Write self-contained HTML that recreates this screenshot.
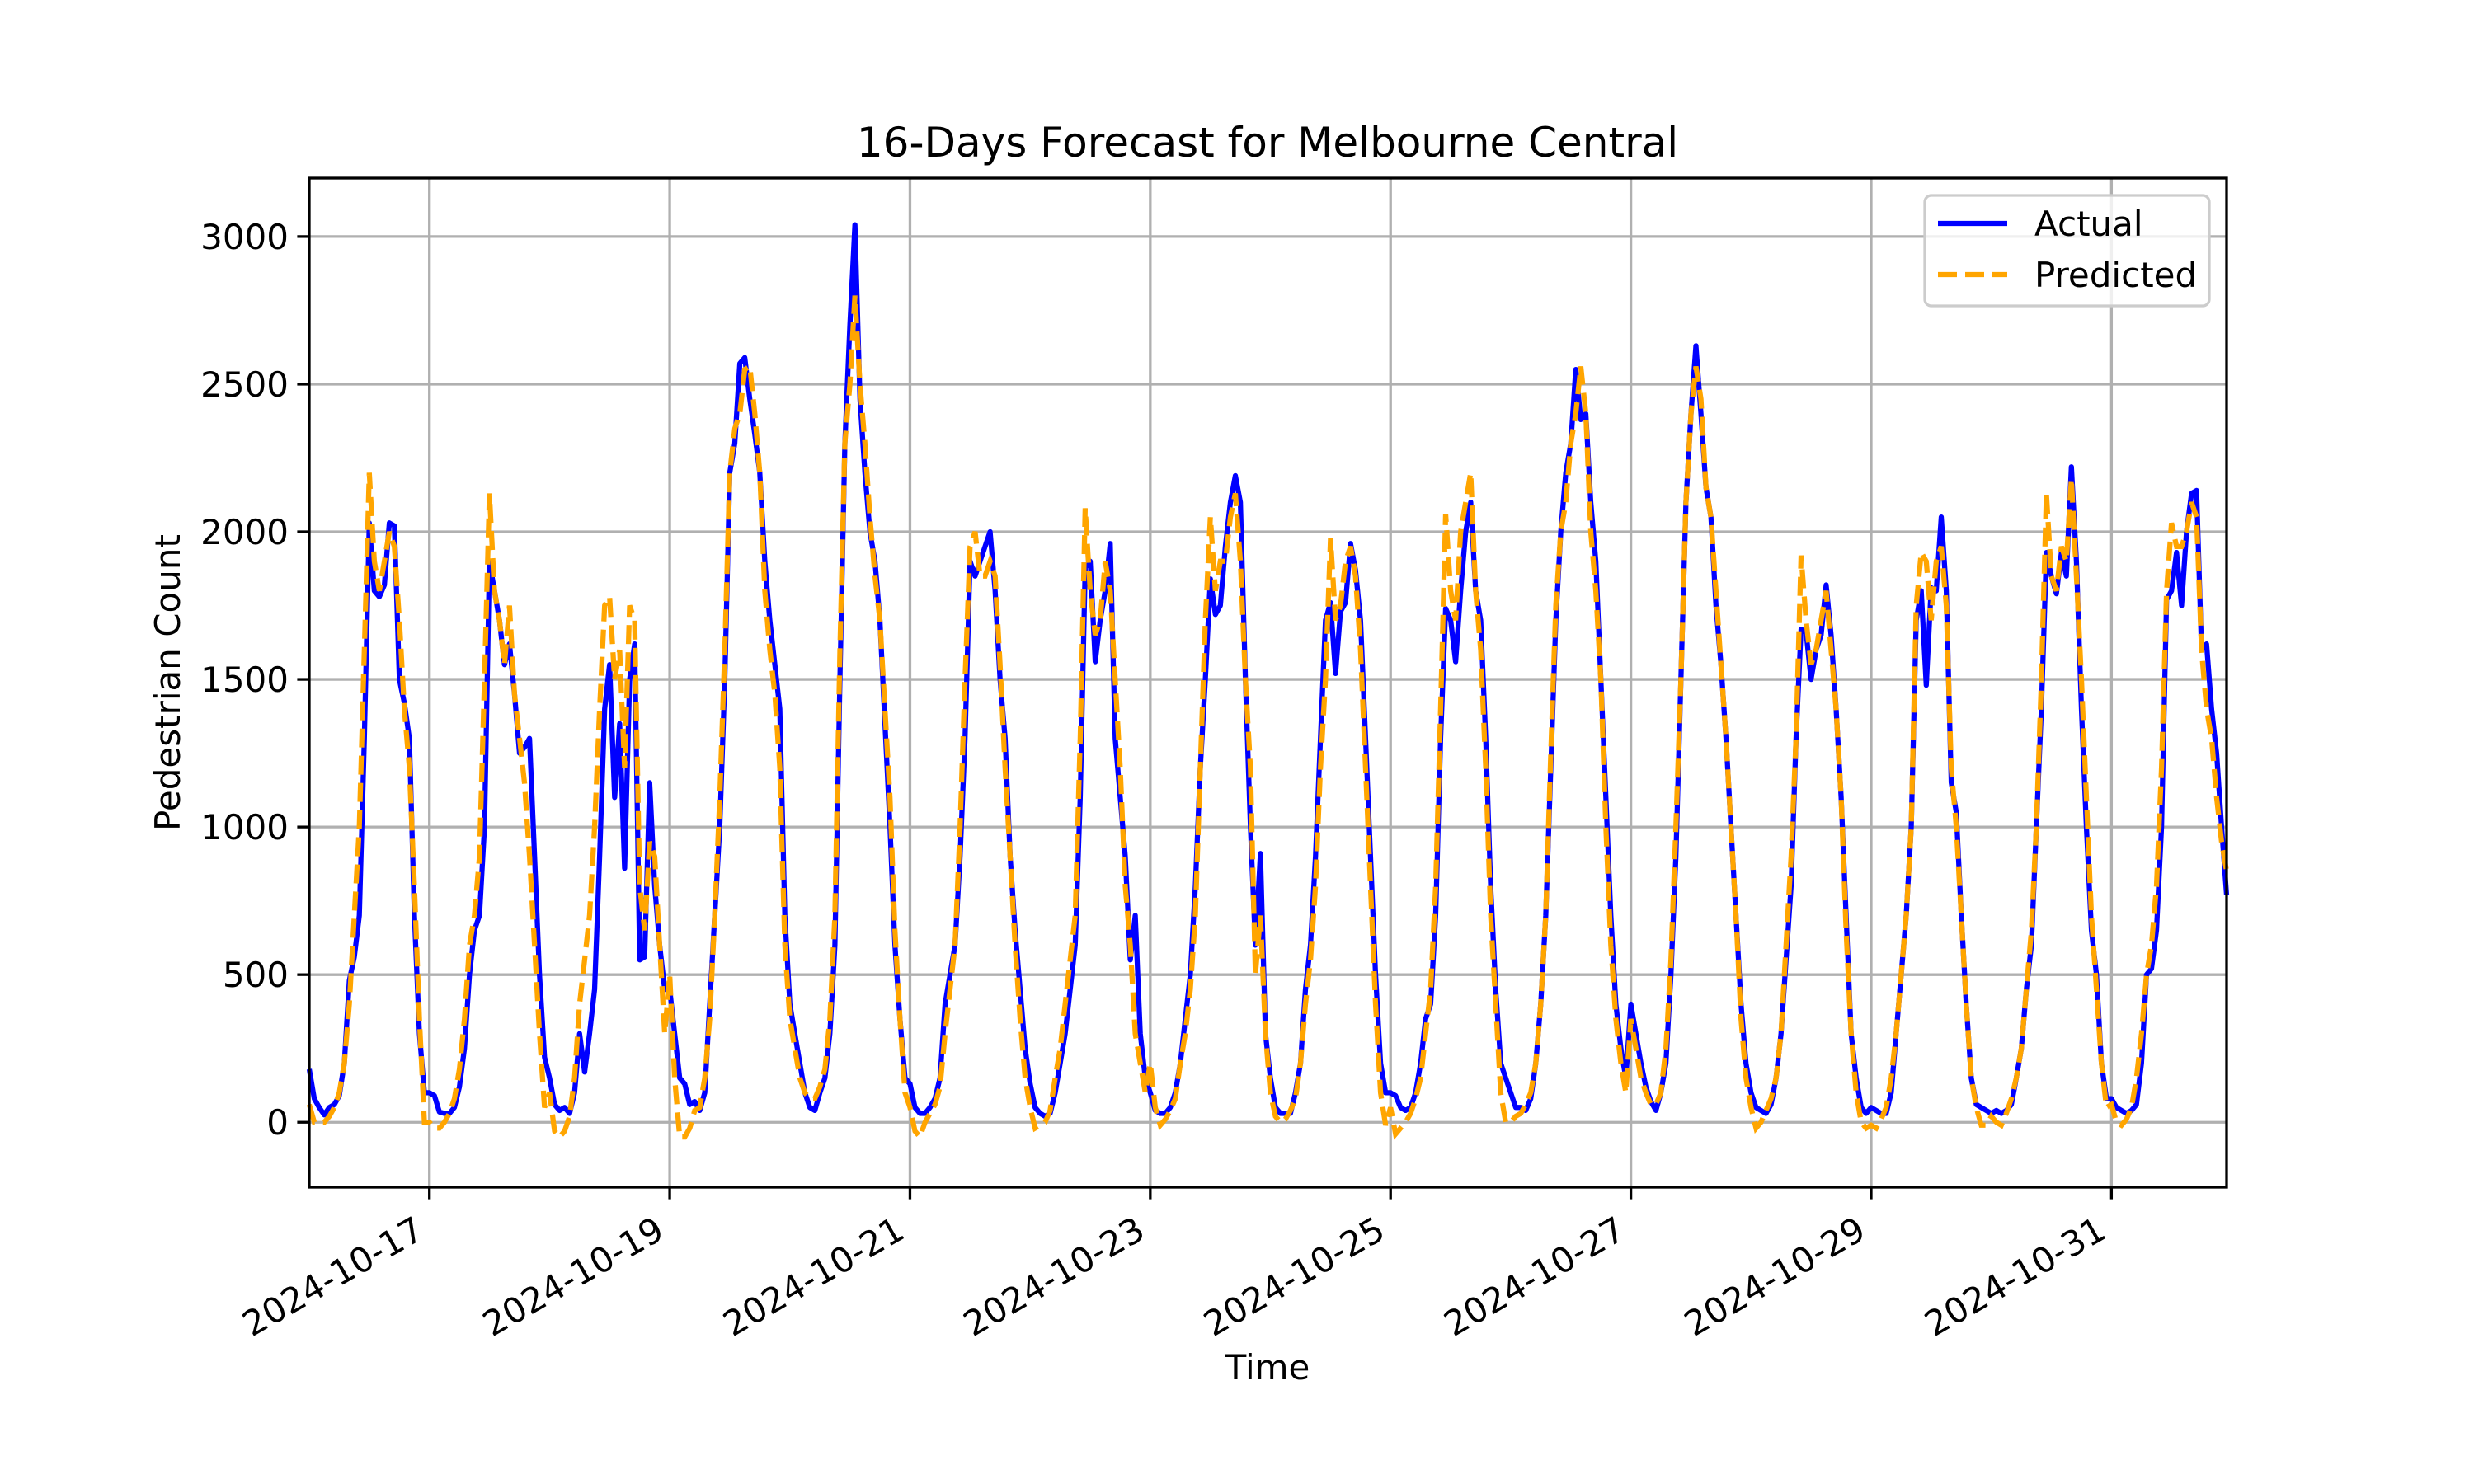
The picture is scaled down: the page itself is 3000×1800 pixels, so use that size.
<!DOCTYPE html>
<html><head><meta charset="utf-8"><title>16-Days Forecast for Melbourne Central</title>
<style>html,body{margin:0;padding:0;background:#fff}svg{display:block}text{font-family:"DejaVu Sans","Liberation Sans",sans-serif;fill:#000}</style>
</head><body>
<svg id="chart" xmlns="http://www.w3.org/2000/svg" width="3000" height="1800" viewBox="0 0 3000 1800">
<rect width="3000" height="1800" fill="#fff"/>
<g id="grid"></g>
<g id="series"></g>
<rect x="375" y="216" width="2325" height="1224" fill="none" stroke="#000" stroke-width="3.3"/>
<g id="ticks"></g>
<text x="1537" y="190" font-size="50" text-anchor="middle">16-Days Forecast for Melbourne Central</text>
<text x="1537" y="1673" font-size="42" text-anchor="middle">Time</text>
<text x="0" y="0" font-size="42" text-anchor="middle" transform="translate(218,828) rotate(-90)">Pedestrian Count</text>
<g>
<rect x="2334" y="237" width="345" height="134" rx="8" fill="#fff" fill-opacity="0.8" stroke="#ccc" stroke-width="3.3"/>
<line x1="2350" y1="271" x2="2434" y2="271" stroke="#0000ff" stroke-width="6.25"/>
<text x="2467" y="286" font-size="42">Actual</text>
<line x1="2350" y1="333" x2="2434" y2="333" stroke="#ffa500" stroke-width="6.25" stroke-dasharray="23,10"/>
<text x="2467" y="348" font-size="42">Predicted</text>
</g>
</svg>
<script>
const yTicks=[0,500,1000,1500,2000,2500,3000];
const xTickLabels=["2024-10-17","2024-10-19","2024-10-21","2024-10-23","2024-10-25","2024-10-27","2024-10-29","2024-10-31"];
const xTickHours=[24,72,120,168,216,264,312,360];
const actual=[
180,80,50,25,50,60,90,200,480,560,700,1300,2030,1800,1780,1820,2030,2020,1500,1420,1300,700,300,100,
100,90,35,30,30,50,120,250,500,650,700,1000,1900,1800,1700,1550,1620,1450,1250,1270,1300,900,500,220,
150,60,40,50,30,100,300,170,300,450,900,1400,1550,1100,1350,860,1500,1620,550,560,1150,800,600,450,
450,300,150,130,60,70,40,100,400,700,1000,1500,2200,2300,2570,2590,2450,2330,2200,1900,1700,1550,1400,700,
400,300,200,100,50,40,100,150,300,600,1500,2300,2700,3040,2450,2200,2000,1900,1700,1350,1000,600,350,150,
130,50,30,30,50,80,150,400,500,600,900,1300,1900,1850,1900,1950,2000,1800,1500,1300,900,650,450,250,
130,50,30,20,30,100,200,300,450,600,1100,1880,1900,1560,1700,1800,1960,1300,1100,900,550,700,300,150,
100,40,30,30,50,100,200,350,500,800,1200,1500,1840,1720,1750,1950,2100,2190,2100,1500,1000,600,910,300,
150,50,30,30,30,100,200,450,600,900,1300,1700,1760,1520,1730,1760,1960,1870,1700,1300,900,500,200,100,
100,90,50,40,50,100,200,350,400,700,1300,1740,1700,1560,1800,2000,2100,1800,1700,1300,800,450,200,150,
100,50,50,40,80,200,400,700,1200,1700,2000,2200,2300,2550,2380,2400,2100,1900,1500,1100,700,400,250,150,
400,300,200,120,70,40,100,200,500,900,1500,2100,2400,2630,2400,2150,2050,1750,1550,1300,1000,700,400,200,
100,50,40,30,60,150,300,550,800,1300,1670,1660,1500,1600,1650,1820,1650,1400,1100,700,300,150,50,30,
50,40,30,30,100,300,500,700,1000,1700,1800,1480,1810,1800,2050,1800,1150,1050,700,400,150,60,50,40,
30,40,30,40,60,150,250,450,600,1000,1400,1930,1850,1790,1930,1850,2220,1900,1400,1000,650,500,200,80,
80,50,40,30,40,60,200,500,520,650,1000,1770,1800,1930,1750,2000,2130,2140,1600,1620,1400,1250,1000,770];
const predicted=[
60,0,0,0,20,50,100,200,400,700,1000,1600,2200,1900,1800,1900,2000,1950,1700,1400,1200,800,350,0,
0,-20,-20,0,30,80,180,350,600,700,900,1500,2130,1800,1700,1550,1750,1450,1300,1150,900,600,300,50,
100,-30,-50,-30,20,150,400,550,700,1000,1400,1750,1780,1500,1600,1200,1750,1700,800,650,950,900,600,300,
500,150,-50,-50,-20,40,50,150,350,700,1100,1600,2200,2350,2400,2550,2560,2400,2200,1800,1600,1450,1200,600,
350,250,150,100,80,80,120,180,350,700,1600,2300,2500,2800,2500,2300,2050,1850,1700,1400,1100,650,350,100,
50,-30,-50,0,30,60,120,300,450,600,1000,1500,1950,2000,1850,1850,1900,1850,1550,1200,900,600,350,150,
50,-20,-10,0,40,150,250,400,550,700,1300,2080,1800,1650,1700,1900,1800,1500,1200,800,600,300,200,100,
200,50,-10,10,40,80,200,300,450,700,1200,1700,2050,1800,1900,1900,2050,2130,1900,1500,1200,500,700,300,
100,20,0,10,40,80,200,400,550,800,1200,1500,1980,1700,1750,1900,1950,1850,1600,1200,800,400,100,-10,
50,-40,-20,0,30,80,150,300,450,800,1400,2060,1800,1700,2000,2100,2200,1800,1600,1200,700,400,100,0,
0,20,30,60,100,200,400,700,1250,1750,2000,2100,2300,2400,2560,2400,2000,1800,1500,1000,600,350,200,100,
350,250,150,100,60,60,100,250,550,1000,1500,2100,2400,2560,2450,2150,2050,1800,1550,1300,1000,700,350,150,
50,-20,0,40,80,150,300,600,900,1300,1920,1700,1550,1600,1700,1800,1600,1400,1100,650,300,100,0,-20,
-10,-20,10,50,150,300,500,700,1000,1750,1930,1900,1700,1900,1950,1750,1200,1000,700,400,150,50,-10,-10,
20,0,-10,30,80,150,250,450,650,1000,1500,2130,1850,1800,1950,1900,2180,1850,1500,1100,700,450,200,50,
60,0,-10,10,50,150,300,500,600,800,1200,1800,2030,1950,1950,2000,2100,2050,1600,1400,1300,1100,950,850];

const L=375,R=2700,T=216,B=1440,XMAX=383,YMIN=-220,YMAX=3198;
function xs(h){return L+(h/XMAX)*(R-L);}
function ys(v){return B-(v-YMIN)/(YMAX-YMIN)*(B-T);}
const NS="http://www.w3.org/2000/svg";
function mk(tag,attrs,parent){const e=document.createElementNS(NS,tag);for(const k in attrs)e.setAttribute(k,attrs[k]);parent.appendChild(e);return e;}
const grid=document.getElementById('grid'),ticks=document.getElementById('ticks'),series=document.getElementById('series');
yTicks.forEach(v=>{
  const y=ys(v);
  const g=mk('line',{x1:L,x2:R,y1:y,y2:y,stroke:'#b0b0b0','stroke-width':3.3},grid);
  
  
  const t=mk('line',{x1:L-14.6,x2:L,y1:y,y2:y,stroke:'#000','stroke-width':3.3},ticks);
  
  
  const tx=mk('text',{x:L-25,y:y+15,'font-size':42,'text-anchor':'end'},ticks);
  tx.textContent=String(v);
  
  
});
xTickHours.forEach((h,i)=>{
  const x=xs(h);
  const g=mk('line',{x1:x,x2:x,y1:T,y2:B,stroke:'#b0b0b0','stroke-width':3.3},grid);
  
  
  const t=mk('line',{x1:x,x2:x,y1:B,y2:B+14.6,stroke:'#000','stroke-width':3.3},ticks);
  
  
  const tx=mk('text',{x:0,y:0,'font-size':42,'text-anchor':'end',transform:`translate(${x-4},${B+60}) rotate(-30)`},ticks);
  tx.textContent=xTickLabels[i];
  
  
});
function pts(arr){return arr.map((v,i)=>xs(i).toFixed(1)+','+ys(v).toFixed(1)).join(' ');}
const a=mk('polyline',{points:pts(actual),fill:'none',stroke:'#0000ff','stroke-width':6.25,'stroke-linejoin':'round'},series);


const p=mk('polyline',{points:pts(predicted),fill:'none',stroke:'#ffa500','stroke-width':6.25,'stroke-dasharray':'23,10'},series);


</script>
</body></html>
